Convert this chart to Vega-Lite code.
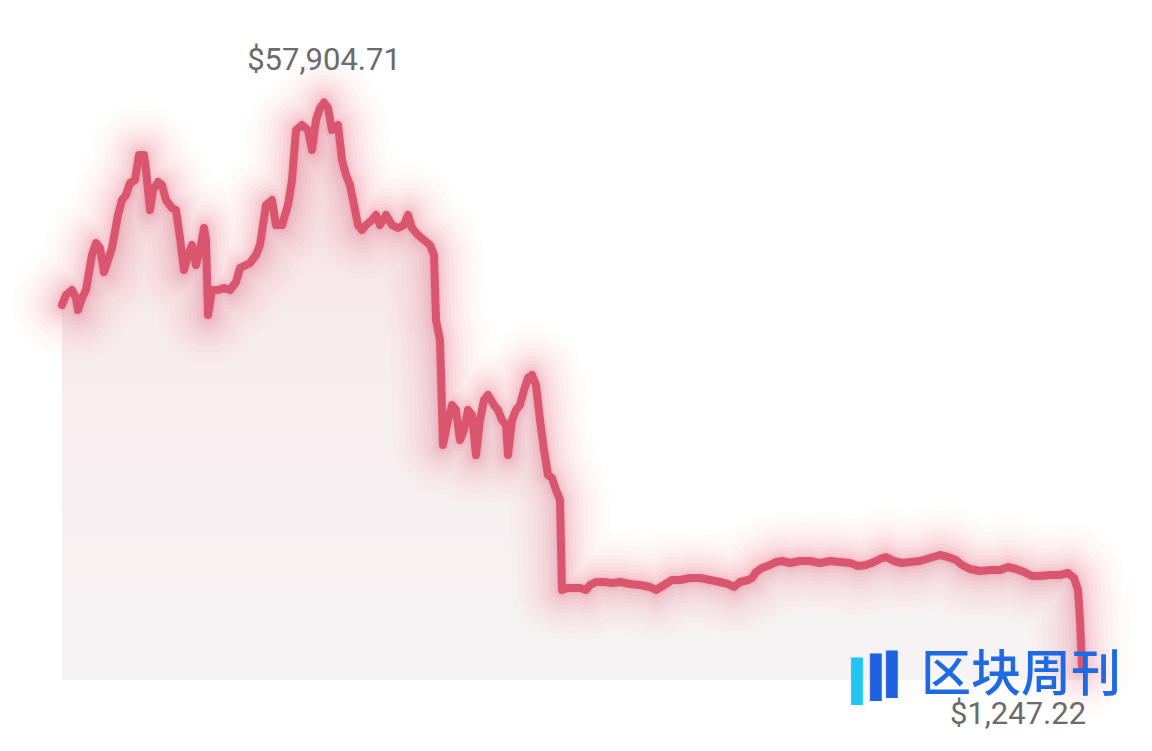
{
  "$schema": "https://vega.github.io/schema/vega-lite/v6.json",
  "width": 1152,
  "height": 751,
  "padding": 0,
  "autosize": {"type": "none"},
  "background": "white",
  "config": {"view": {"stroke": null}},
  "data": {"values": [
    {"day":0,"price":37605},{"day":4,"price":38608},{"day":10,"price":39109},{"day":14,"price":38307},{"day":16,"price":37104},{"day":20,"price":38307},{"day":24,"price":39109},{"day":30,"price":42619},{"day":34,"price":43822},{"day":38,"price":43321},{"day":42,"price":40914},{"day":46,"price":42118},{"day":50,"price":43321},{"day":56,"price":46630},{"day":60,"price":48134},{"day":64,"price":48636},{"day":68,"price":49839},{"day":73,"price":50140},{"day":77,"price":52647},{"day":82,"price":52647},{"day":84,"price":51143},{"day":88,"price":47132},{"day":91,"price":49137},{"day":96,"price":49939},{"day":100,"price":49639},{"day":104,"price":48134},{"day":110,"price":47332},{"day":114,"price":47132},{"day":118,"price":44324},{"day":122,"price":41115},{"day":126,"price":42619},{"day":130,"price":43622},{"day":134,"price":41616},{"day":138,"price":43120},{"day":142,"price":45327},{"day":144,"price":44123},{"day":146,"price":36602},{"day":150,"price":39109},{"day":156,"price":39109},{"day":162,"price":39310},{"day":168,"price":39109},{"day":174,"price":39911},{"day":178,"price":41315},{"day":184,"price":41616},{"day":188,"price":41817},{"day":194,"price":42619},{"day":198,"price":43622},{"day":204,"price":47633},{"day":210,"price":48134},{"day":214,"price":45627},{"day":220,"price":45627},{"day":226,"price":47633},{"day":230,"price":50140},{"day":234,"price":55154},{"day":240,"price":55655},{"day":246,"price":55154},{"day":250,"price":53148},{"day":254,"price":56157},{"day":258,"price":57360},{"day":262,"price":57904.71},{"day":266,"price":57360},{"day":270,"price":55154},{"day":276,"price":55655},{"day":280,"price":52146},{"day":284,"price":50641},{"day":288,"price":49639},{"day":292,"price":47633},{"day":296,"price":45627},{"day":300,"price":45126},{"day":304,"price":45627},{"day":310,"price":46129},{"day":314,"price":46630},{"day":318,"price":45627},{"day":324,"price":46630},{"day":330,"price":45627},{"day":336,"price":45327},{"day":342,"price":45627},{"day":346,"price":46630},{"day":350,"price":45327},{"day":356,"price":44625},{"day":362,"price":44123},{"day":368,"price":43622},{"day":372,"price":42619},{"day":374,"price":36101},{"day":378,"price":34095},{"day":381,"price":23566},{"day":386,"price":26073},{"day":390,"price":27577},{"day":394,"price":27076},{"day":398,"price":24067},{"day":402,"price":25070},{"day":406,"price":27076},{"day":410,"price":26574},{"day":414,"price":22563},{"day":418,"price":26073},{"day":422,"price":28078},{"day":426,"price":28580},{"day":432,"price":27577},{"day":436,"price":27076},{"day":440,"price":26073},{"day":444,"price":25571},{"day":446,"price":22563},{"day":450,"price":26073},{"day":454,"price":27076},{"day":458,"price":27577},{"day":462,"price":29081},{"day":466,"price":30285},{"day":470,"price":30585},{"day":474,"price":29583},{"day":478,"price":26073},{"day":482,"price":23064},{"day":486,"price":20557},{"day":490,"price":20257},{"day":494,"price":19053},{"day":498,"price":18050},{"day":500,"price":9025},{"day":506,"price":9226},{"day":512,"price":9226},{"day":518,"price":9226},{"day":524,"price":9025},{"day":528,"price":9527},{"day":534,"price":9827},{"day":542,"price":9827},{"day":550,"price":9727},{"day":558,"price":9827},{"day":568,"price":9627},{"day":578,"price":9527},{"day":588,"price":9326},{"day":594,"price":9025},{"day":602,"price":9527},{"day":610,"price":10028},{"day":618,"price":10028},{"day":628,"price":10229},{"day":638,"price":10229},{"day":648,"price":10028},{"day":658,"price":9827},{"day":666,"price":9627},{"day":672,"price":9326},{"day":678,"price":9827},{"day":686,"price":10028},{"day":690,"price":10229},{"day":694,"price":10830},{"day":700,"price":11231},{"day":708,"price":11532},{"day":714,"price":11833},{"day":720,"price":11933},{"day":728,"price":11733},{"day":738,"price":11933},{"day":748,"price":11933},{"day":758,"price":11733},{"day":768,"price":11933},{"day":778,"price":11833},{"day":788,"price":11733},{"day":796,"price":11432},{"day":804,"price":11532},{"day":812,"price":11833},{"day":818,"price":12134},{"day":824,"price":12334},{"day":832,"price":11933},{"day":840,"price":11733},{"day":848,"price":11833},{"day":858,"price":11933},{"day":868,"price":12234},{"day":878,"price":12535},{"day":886,"price":12334},{"day":894,"price":12034},{"day":900,"price":11532},{"day":908,"price":11131},{"day":918,"price":10931},{"day":928,"price":11031},{"day":938,"price":11031},{"day":946,"price":11332},{"day":954,"price":11131},{"day":962,"price":10830},{"day":970,"price":10429},{"day":978,"price":10429},{"day":988,"price":10529},{"day":998,"price":10529},{"day":1006,"price":10730},{"day":1012,"price":10229},{"day":1016,"price":9025},{"day":1018,"price":6017},{"day":1020,"price":1247.22}
  ]},
  "encoding": {
    "x": {"field": "day", "type": "quantitative", "scale": {"domain": [-62, 1090], "nice": false, "zero": false}, "axis": null},
    "y": {"field": "price", "type": "quantitative", "scale": {"domain": [-7120, 68190], "nice": false, "zero": false}, "axis": null}
  },
  "layer": [
    {
      "mark": {"type": "area", "interpolate": "linear",
        "fill": {"gradient": "linear", "x1": 0, "y1": 0, "x2": 0, "y2": 1,
          "stops": [{"offset": 0, "color": "#f7e1e6"}, {"offset": 0.5, "color": "#f7eef0"}, {"offset": 1, "color": "#f7f3f4"}]}},
      "encoding": {"y2": {"datum": 0}}
    },
    {"mark": {"type": "line", "stroke": "#ea7c93", "strokeWidth": 100, "opacity": 0.025, "strokeJoin": "round", "strokeCap": "round"}, "encoding": {}},
    {"mark": {"type": "line", "stroke": "#ea7c93", "strokeWidth": 88, "opacity": 0.025, "strokeJoin": "round", "strokeCap": "round"}, "encoding": {}},
    {"mark": {"type": "line", "stroke": "#ea7c93", "strokeWidth": 76, "opacity": 0.03, "strokeJoin": "round", "strokeCap": "round"}, "encoding": {}},
    {"mark": {"type": "line", "stroke": "#e8758d", "strokeWidth": 65, "opacity": 0.03, "strokeJoin": "round", "strokeCap": "round"}, "encoding": {}},
    {"mark": {"type": "line", "stroke": "#e8758d", "strokeWidth": 55, "opacity": 0.035, "strokeJoin": "round", "strokeCap": "round"}, "encoding": {}},
    {"mark": {"type": "line", "stroke": "#e6708a", "strokeWidth": 46, "opacity": 0.04, "strokeJoin": "round", "strokeCap": "round"}, "encoding": {}},
    {"mark": {"type": "line", "stroke": "#e6708a", "strokeWidth": 38, "opacity": 0.045, "strokeJoin": "round", "strokeCap": "round"}, "encoding": {}},
    {"mark": {"type": "line", "stroke": "#e46b85", "strokeWidth": 30, "opacity": 0.05, "strokeJoin": "round", "strokeCap": "round"}, "encoding": {}},
    {"mark": {"type": "line", "stroke": "#e46b85", "strokeWidth": 23, "opacity": 0.06, "strokeJoin": "round", "strokeCap": "round"}, "encoding": {}},
    {"mark": {"type": "line", "stroke": "#e0627c", "strokeWidth": 16, "opacity": 0.08, "strokeJoin": "round", "strokeCap": "round"}, "encoding": {}},
    {"mark": {"type": "line", "stroke": "#e0627c", "strokeWidth": 11, "opacity": 0.12, "strokeJoin": "round", "strokeCap": "round"}, "encoding": {}},
    {"mark": {"type": "line", "stroke": "#da566f", "strokeWidth": 8, "strokeJoin": "round", "strokeCap": "round"}, "encoding": {}},
    {
      "transform": [{"filter": "datum.day == 262"}],
      "mark": {"type": "text", "font": "Roboto", "fontSize": 31, "color": "#6b6b6b", "align": "center", "baseline": "middle", "dy": -42},
      "encoding": {"text": {"field": "price", "type": "quantitative", "format": "$,.2f"}}
    },
    {
      "transform": [{"filter": "datum.day == 1020"}],
      "mark": {"type": "text", "font": "Roboto", "fontSize": 31, "color": "#6b6b6b", "align": "center", "baseline": "middle", "dx": -64, "dy": 47},
      "encoding": {"text": {"field": "price", "type": "quantitative", "format": "$,.2f"}}
    },
    {
      "transform": [{"filter": "datum.day == 1020"}],
      "mark": {"type": "text", "font": "DejaVu Sans", "fontSize": 40, "color": "#22c4f0", "align": "left", "baseline": "middle", "dx": -231, "dy": 15},
      "encoding": {"text": {"value": "▍"}}
    },
    {
      "transform": [{"filter": "datum.day == 1020"}],
      "mark": {"type": "text", "font": "DejaVu Sans", "fontSize": 40, "color": "#1d63e0", "align": "left", "baseline": "middle", "dx": -212, "dy": 11},
      "encoding": {"text": {"value": "▍"}}
    },
    {
      "transform": [{"filter": "datum.day == 1020"}],
      "mark": {"type": "text", "font": "DejaVu Sans", "fontSize": 40, "color": "#1d63e0", "align": "left", "baseline": "middle", "dx": -196, "dy": 8},
      "encoding": {"text": {"value": "▍"}}
    },
    {
      "transform": [{"filter": "datum.day == 1020"}],
      "mark": {"type": "text", "font": "Noto Sans CJK SC", "fontWeight": 500, "fontSize": 50, "color": "#1d6ae3", "align": "center", "baseline": "middle", "dx": -61, "dy": 8},
      "encoding": {"text": {"value": "区块周刊"}}
    }
  ]
}
